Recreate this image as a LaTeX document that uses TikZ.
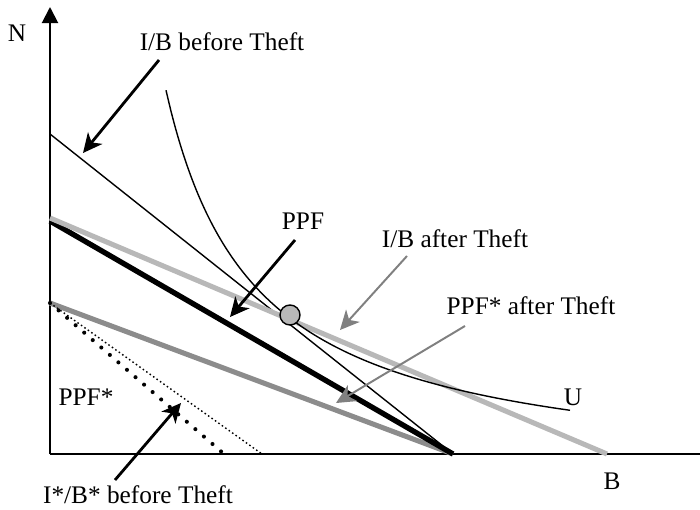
\documentclass[tikz,border=0pt]{standalone}
\usepackage{fontspec}
\setmainfont{Liberation Serif}
\usetikzlibrary{arrows.meta}
\definecolor{lightline}{gray}{0.72}
\definecolor{darkline}{gray}{0.55}
\definecolor{pointer}{gray}{0.5}
\tikzset{
    labelarrow/.style = {line width = 2pt, -{Stealth[length = 0.48cm, width = 0.46cm, inset = 0.14cm]}},
    greyarrow/.style = {labelarrow, line width = 1.4pt, color = pointer},
}
\begin{document}
\begin{tikzpicture}[x = 0.025cm, y = 0.025cm]
        \useasboundingbox (-50,-55) rectangle (650,454);
        % axes
        \coordinate (O) at (0,0);
        \coordinate (Ntop) at (0,447);
        \coordinate (Bend) at (650,0);
        \draw [line width = 1.4pt, -{Triangle[length = 0.4cm, width = 0.4cm]}] (O) -- (Ntop);
        \draw [line width = 1.4pt] (O) -- (Bend);
        % budget lines and frontiers
        \coordinate (ibStart) at (0,320);
        \coordinate (ppfStart) at (0,233);
        \coordinate (afterStart) at (0,236);
        \coordinate (starStart) at (0,151);
        \coordinate (ppfEnd) at (403,0);
        \coordinate (afterEnd) at (557,0);
        \coordinate (dotEnd) at (212,0);
        \coordinate (starEnd) at (174,0);
        \draw [line width = 1pt] (ibStart) -- (ppfEnd);
        \draw [line width = 3.6pt, color = darkline] (starStart) -- (ppfEnd);
        \draw [line width = 3.8pt] (ppfStart) -- (ppfEnd);
        \draw [line width = 3.6pt, color = lightline] (afterStart) -- (afterEnd);
        \draw [line width = 1pt, dash pattern = on 1.1pt off 1.9pt] (starStart) -- (dotEnd);
        \draw [line width = 2.9pt, line cap = round, dash pattern = on 0pt off 0.283cm] (starStart) -- (starEnd);
        % indifference curve
        \draw [line width = 1pt] plot [domain = 116:520, samples = 80, smooth] (\x, {-26 + 343/((\x - 28)/100)});
        \node [circle, draw, line width = 1pt, fill = lightline, minimum size = 0.5cm, inner sep = 0pt] (opt) at (240,139) {};
        % labels
        \begin{scope}[font = \fontsize{18}{20}\selectfont]
            \node [] (labN) at (-33,421) {N};
            \node [] (labB) at (562,-27) {B};
            \node [] (labU) at (523,57) {U};
            \node [] (labIBbefore) at (172,412) {I/B before Theft};
            \node [] (labPPF) at (253,233) {PPF};
            \node [] (labIBafter) at (405,215) {I/B after Theft};
            \node [] (labPPFafter) at (481,148) {PPF* after Theft};
            \node [] (labPPFstar) at (36,57) {PPF*};
            \node [] (labIBstar) at (88,-41) {I*/B* before Theft};
        \end{scope}
        % pointers
        \coordinate (ibBeforeFrom) at (109,394);
        \coordinate (ibBeforeTip) at (33,301);
        \coordinate (ppfFrom) at (245,214);
        \coordinate (ppfTip) at (180,137);
        \coordinate (ibAfterFrom) at (357,198);
        \coordinate (ibAfterTip) at (290,124);
        \coordinate (ppfAfterFrom) at (415,128);
        \coordinate (ppfAfterTip) at (286,51);
        \coordinate (ibStarFrom) at (65,-26);
        \coordinate (ibStarTip) at (131,51);
        \draw [labelarrow] (ibBeforeFrom) -- (ibBeforeTip);
        \draw [labelarrow] (ppfFrom) -- (ppfTip);
        \draw [greyarrow] (ibAfterFrom) -- (ibAfterTip);
        \draw [greyarrow] (ppfAfterFrom) -- (ppfAfterTip);
        \draw [labelarrow] (ibStarFrom) -- (ibStarTip);
    \end{tikzpicture}
\end{document}
